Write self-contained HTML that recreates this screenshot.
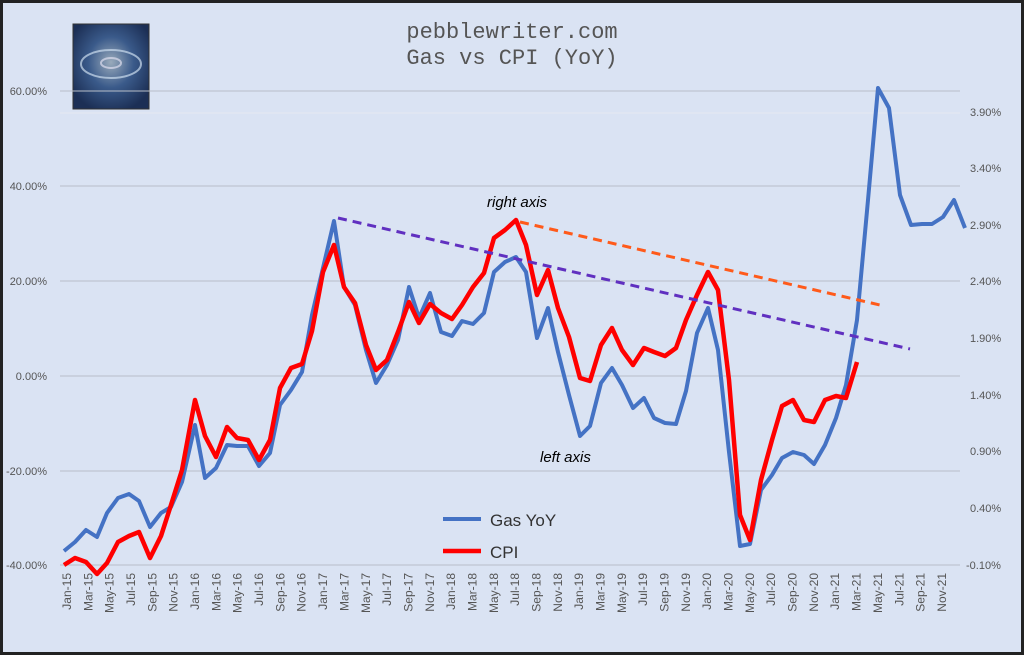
<!DOCTYPE html><html><head><style>
html,body{margin:0;padding:0;background:#fff}
.f{position:absolute;left:0;top:0;width:1018px;height:649px;border:3px solid #222;background:#dae3f3;box-sizing:content-box}
</style></head><body>
<div class="f"></div>
<svg width="1024" height="655" style="position:absolute;left:0;top:0" font-family="Liberation Sans, sans-serif">
<defs><radialGradient id="r" cx="50%" cy="45%" r="60%"><stop offset="0" stop-color="#9ab"/><stop offset=".5" stop-color="#3a5a8a"/><stop offset="1" stop-color="#1c2f55"/></radialGradient></defs>
<rect x="73" y="24" width="76" height="85" fill="url(#r)" stroke="#333"/>
<ellipse cx="111" cy="64" rx="30" ry="14" fill="none" stroke="#cde" stroke-width="2" opacity=".7"/>
<ellipse cx="111" cy="63" rx="10" ry="5" fill="none" stroke="#dde" stroke-width="2" opacity=".7"/>
<text x="512" y="38" text-anchor="middle" font-family="Liberation Mono, monospace" font-size="22" fill="#555">pebblewriter.com</text>
<text x="512" y="64" text-anchor="middle" font-family="Liberation Mono, monospace" font-size="22" fill="#555">Gas vs CPI (YoY)</text>
<g stroke="#b8bec8" stroke-width="1">
<line x1="60" y1="91" x2="960" y2="91"/><line x1="60" y1="186" x2="960" y2="186"/><line x1="60" y1="281" x2="960" y2="281"/><line x1="60" y1="376" x2="960" y2="376"/><line x1="60" y1="471" x2="960" y2="471"/><line x1="60" y1="565" x2="960" y2="565"/>
<line x1="60" y1="113" x2="960" y2="113" stroke="#e6e9f0"/>
</g>
<g font-size="11" fill="#555" text-anchor="end">
<text x="47" y="95">60.00%</text><text x="47" y="190">40.00%</text><text x="47" y="285">20.00%</text><text x="47" y="380">0.00%</text><text x="47" y="475">-20.00%</text><text x="47" y="569">-40.00%</text>
</g>
<g font-size="11" fill="#555">
<text x="970" y="116">3.90%</text><text x="970" y="172">3.40%</text><text x="970" y="229">2.90%</text><text x="970" y="285">2.40%</text><text x="970" y="342">1.90%</text><text x="970" y="399">1.40%</text><text x="970" y="455">0.90%</text><text x="970" y="512">0.40%</text><text x="966" y="569">-0.10%</text>
</g>
<g font-size="12" fill="#555" id="xl"></g>
<polyline fill="none" stroke="#4472c4" stroke-width="4" stroke-linejoin="round" points="64,551 75,542 86,530 97,537 107,513 118,498 129,494 139,501 150,527 161,513 171,507 182,482 195,425 205,478 216,468 227,445 237,446 248,446 259,466 270,453 280,405 291,390 302,372 312,315 323,268 334,221 344,287 355,305 366,350 376,383 387,365 398,340 409,287 419,318 430,293 441,332 452,336 462,321 473,324 484,313 494,272 505,262 516,257 526,272 537,338 548,308 558,352 569,395 580,436 590,426 601,383 612,368 622,385 633,408 644,398 654,418 665,423 676,424 686,391 697,333 708,308 718,350 729,452 740,546 750,544 761,490 772,475 782,458 793,452 804,455 814,464 825,445 836,418 846,385 857,320 868,200 878,88 889,108 900,195 911,225 922,224 932,224 943,217 954,200 965,228"/>
<polyline fill="none" stroke="#ff0000" stroke-width="4.5" stroke-linejoin="round" points="64,565 75,558 86,562 97,574 107,563 118,542 129,536 139,532 150,558 161,536 171,505 182,470 195,400 205,436 216,457 227,427 237,438 248,440 259,460 270,440 280,388 291,368 302,364 312,331 323,272 334,245 344,287 355,303 366,345 376,370 387,360 398,332 409,302 419,323 430,304 441,313 452,319 462,305 473,287 484,273 494,238 505,230 516,220 526,245 537,295 548,270 558,308 569,337 580,378 590,381 601,345 612,328 622,350 633,365 644,348 654,352 665,356 676,348 686,320 697,295 708,272 718,290 729,380 740,515 750,540 761,480 772,440 782,406 793,400 804,420 814,422 825,400 836,396 846,398 857,362"/>
<line x1="338" y1="218" x2="910" y2="349" stroke="#6030c0" stroke-width="3" stroke-dasharray="9,6"/>
<line x1="520" y1="222" x2="880" y2="305" stroke="#ff5a1a" stroke-width="3" stroke-dasharray="9,6"/>
<text x="487" y="207" font-size="15" font-style="italic">right axis</text>
<text x="540" y="462" font-size="15" font-style="italic">left axis</text>
<line x1="443" y1="519" x2="481" y2="519" stroke="#4472c4" stroke-width="4"/>
<text x="490" y="526" font-size="17" fill="#333">Gas YoY</text>
<line x1="443" y1="551" x2="481" y2="551" stroke="#ff0000" stroke-width="4.5"/>
<text x="490" y="558" font-size="17" fill="#333">CPI</text>
</svg>
<script>
var m=["Jan","Mar","May","Jul","Sep","Nov"],g=document.getElementById("xl"),s="";
for(var i=0;i<42;i++){var x=67+i*2*10.67+4,y=15+Math.floor(i/6);var t=m[i%6]+"-"+y;s+='<text transform="translate('+x.toFixed(1)+',573) rotate(-90)" text-anchor="end">'+t+'</text>';}
g.innerHTML=s;
</script>
</body></html>
